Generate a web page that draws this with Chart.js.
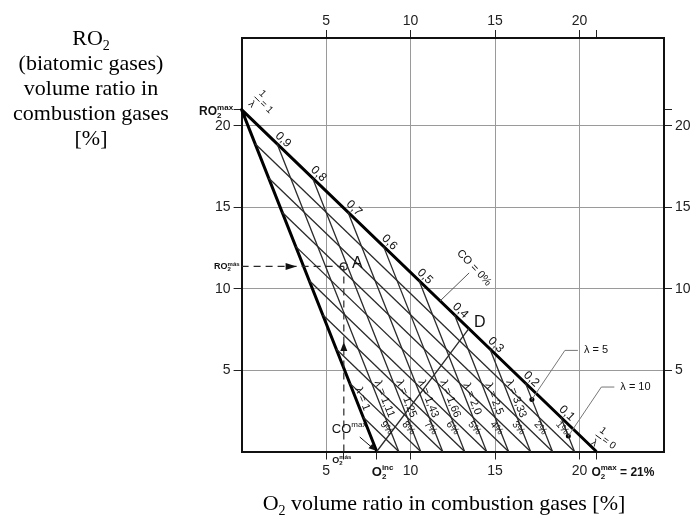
<!DOCTYPE html>
<html>
<head>
<meta charset="utf-8">
<title>Combustion triangle</title>
<script src="https://cdn.jsdelivr.net/npm/chart.js@4.4.1/dist/chart.umd.min.js"></script>
<style>
  html, body { margin: 0; padding: 0; background: #fff; }
  #chart { display: block; }
</style>
</head>
<body>
<canvas id="chart" width="690" height="516"></canvas>
<script>
// Combustion triangle: O2 (x) against RO2 (y), both in % by volume
const RO2_MAX = 21;
const O2_MAX = 21;
const O2_INC = 8;
const CO_MAX = 10;

// 1/lambda values marked along the CO = 0 % edge, and the lambda each one stands for
const invLambda = [0.9, 0.8, 0.7, 0.6, 0.5, 0.4, 0.3, 0.2, 0.1];
const lambdaText = ['1,11', '1,25', '1,43', '1,66', '2,0', '2,5', '3,33', '5', '10'];
// CO content of the lines running down from the lambda = 1 edge
const coLevels = [9, 8, 7, 6, 5, 4, 3, 2, 1];

const axisTicks = [5, 10, 15, 20];
const pointA = { x: 6.05, y: 11.37 };
const pointD = { x: 13.45, y: 7.55 };
// RO2 level where the lambda = 5 and lambda = 10 callouts touch their lines
const calloutY = [3.2, 0.95];

const SANS = '"Liberation Sans", Arial, sans-serif';
const SERIF = '"Liberation Serif", "Times New Roman", serif';
const sans = (size, weight) => (weight || 'normal') + ' ' + size + 'px ' + SANS;
const serif = size => size + 'px ' + SERIF;

function lambdaLine(k) {
  return [{ x: O2_MAX * (1 - k), y: RO2_MAX * k }, { x: O2_MAX - (O2_MAX - O2_INC) * k, y: 0 }];
}

function coLine(c) {
  const t = c / CO_MAX;
  return [{ x: O2_INC * t, y: RO2_MAX * (1 - t) }, { x: O2_MAX - (O2_MAX - O2_INC) * t, y: 0 }];
}

function xOnLambda(k, y) {
  const [s, e] = lambdaLine(k);
  return s.x + (e.x - s.x) * (s.y - y) / s.y;
}

const thin = (data, extra) => Object.assign({
  data: data, showLine: true, borderColor: '#2a2a2a', borderWidth: 1.3,
  pointRadius: 0, fill: false, clip: false
}, extra || {});

const datasets = [];
invLambda.forEach(k => datasets.push(thin(lambdaLine(k))));
coLevels.forEach(c => datasets.push(thin(coLine(c))));
datasets.push(thin([pointD, { x: O2_INC, y: 0 }]));
// reading lines through A
datasets.push(thin([{ x: 0, y: pointA.y }, pointA], { borderDash: [7, 5], borderWidth: 1.2 }));
datasets.push(thin([{ x: pointA.x, y: 0 }, pointA], { borderDash: [7, 5], borderWidth: 1.2 }));
// heavy edges: lambda = 1 and CO = 0 %
datasets.push(thin([{ x: O2_INC, y: 0 }, { x: 0, y: RO2_MAX }, { x: O2_MAX, y: 0 }],
  { borderColor: '#000', borderWidth: 3, borderJoinStyle: 'round' }));
datasets.push({
  data: calloutY.map((y, i) => ({ x: xOnLambda(invLambda[7 + i], y), y: y })),
  showLine: false, pointRadius: 2.5, pointBackgroundColor: '#000', pointBorderWidth: 0, clip: false
});
datasets.push({
  data: [pointA], showLine: false, pointRadius: 3.5, pointBackgroundColor: '#fff',
  pointBorderColor: '#222', pointBorderWidth: 1.2, clip: false
});

function rotText(ctx, text, x, y, angle, font) {
  ctx.save();
  ctx.translate(x, y);
  ctx.rotate(angle);
  ctx.font = font;
  ctx.textAlign = 'center';
  ctx.textBaseline = 'middle';
  ctx.fillText(text, 0, 0);
  ctx.restore();
}

// text runs with sub/superscripts; keep:true leaves the pen in place for a stacked script
function richWidth(ctx, segs) {
  let x = 0, held = 0;
  segs.forEach(s => {
    ctx.font = s.f;
    const w = ctx.measureText(s.t).width;
    if (s.keep) held = Math.max(held, w);
    else { x += Math.max(held, w); held = 0; }
  });
  return x + held;
}

function drawRich(ctx, x, y, segs, align) {
  const w = richWidth(ctx, segs);
  let cx = align === 'center' ? x - w / 2 : align === 'right' ? x - w : x;
  let held = 0;
  ctx.textAlign = 'left';
  ctx.textBaseline = 'alphabetic';
  segs.forEach(s => {
    ctx.font = s.f;
    ctx.fillText(s.t, cx, y + (s.dy || 0));
    const sw = ctx.measureText(s.t).width;
    if (s.keep) held = Math.max(held, sw);
    else { cx += Math.max(held, sw); held = 0; }
  });
}

function arrowHead(ctx, x, y, angle, len, half) {
  ctx.save();
  ctx.translate(x, y);
  ctx.rotate(angle);
  ctx.beginPath();
  ctx.moveTo(0, 0);
  ctx.lineTo(-len, -half);
  ctx.lineTo(-len, half);
  ctx.closePath();
  ctx.fill();
  ctx.restore();
}

function fracLabel(ctx, x, y, angle, rhs) {
  ctx.save();
  ctx.translate(x, y);
  ctx.rotate(angle);
  ctx.font = sans(10);
  ctx.textAlign = 'center';
  ctx.textBaseline = 'middle';
  ctx.fillText('1', 0, -7.5);
  ctx.fillText('λ', 0, 7.5);
  ctx.lineWidth = 0.9;
  ctx.beginPath();
  ctx.moveTo(-3.5, 0);
  ctx.lineTo(3.5, 0);
  ctx.stroke();
  ctx.textAlign = 'left';
  ctx.fillText('= ' + rhs, 5, -1);
  ctx.restore();
}

const annotations = {
  id: 'annotations',
  afterDraw(chart) {
    const ctx = chart.ctx;
    const X = v => chart.scales.x.getPixelForValue(v);
    const Y = v => chart.scales.y.getPixelForValue(v);
    ctx.save();
    ctx.fillStyle = '#111';
    ctx.strokeStyle = '#111';

    // 1/lambda along the CO = 0 % edge
    const hyp = Math.atan2(Y(0) - Y(RO2_MAX), X(O2_MAX) - X(0));
    const hu = [Math.cos(hyp), Math.sin(hyp)], hn = [Math.sin(hyp), -Math.cos(hyp)];
    invLambda.forEach(k => {
      const x = X(O2_MAX * (1 - k)) + 1.5 * hu[0] + 7 * hn[0];
      const y = Y(RO2_MAX * k) + 1.5 * hu[1] + 7 * hn[1];
      rotText(ctx, String(k).replace('.', ','), x, y, hyp, sans(12));
    });

    // lambda names along the steep lines
    const lam = Math.atan2(Y(0) - Y(RO2_MAX), X(O2_INC) - X(0));
    const ln = [Math.sin(lam), -Math.cos(lam)];
    const named = [[1, '1']].concat(invLambda.slice(0, 7).map((k, i) => [k, lambdaText[i]]));
    named.forEach(([k, t]) => {
      const yv = 3.1;
      rotText(ctx, 'λ = ' + t, X(xOnLambda(k, yv)) + 6 * ln[0], Y(yv) + 6 * ln[1], lam, sans(11));
    });

    // CO content near the foot of each line
    coLevels.forEach(c => {
      const end = coLine(c)[1];
      rotText(ctx, c + '%', X(end.x) - 12, Y(0) - 23.5, 0.85, sans(10));
    });

    // callouts for lambda = 5 and lambda = 10
    ctx.strokeStyle = '#777';
    ctx.lineWidth = 1;
    calloutY.forEach((yv, i) => {
      const k = invLambda[7 + i];
      const x0 = X(xOnLambda(k, yv)), y0 = Y(yv);
      ctx.beginPath();
      ctx.moveTo(x0, y0);
      ctx.lineTo(x0 + 33, y0 - 49);
      ctx.lineTo(x0 + 46, y0 - 49);
      ctx.stroke();
      ctx.font = sans(11);
      ctx.textAlign = 'left';
      ctx.textBaseline = 'middle';
      ctx.fillText('λ = ' + lambdaText[7 + i], x0 + 52, y0 - 49);
    });

    // CO = 0 % callout
    ctx.strokeStyle = '#555';
    const cx0 = X(11.75), cy0 = Y(O2_MAX - 11.75);
    ctx.beginPath();
    ctx.moveTo(cx0, cy0);
    ctx.lineTo(cx0 + 29, cy0 - 28);
    ctx.stroke();
    rotText(ctx, 'CO = 0%', cx0 + 29 + 5, cy0 - 28 - 5, 0.82, sans(11));

    // point names
    ctx.font = sans(16);
    ctx.textAlign = 'center';
    ctx.textBaseline = 'middle';
    ctx.fillText('A', X(pointA.x) + 13.5, Y(pointA.y) - 2.5);
    ctx.fillText('D', X(pointD.x) + 11, Y(pointD.y) - 6);

    // arrows on the reading lines and the CO max pointer
    arrowHead(ctx, X(0) + 55, Y(pointA.y), 0, 11, 3.5);
    arrowHead(ctx, X(pointA.x), Y(0) - 109.5, -Math.PI / 2, 9, 3.5);
    const bx = X(O2_INC), by = Y(0);
    ctx.strokeStyle = '#111';
    ctx.lineWidth = 1;
    ctx.beginPath();
    ctx.moveTo(bx - 17, by - 14.5);
    ctx.lineTo(bx - 3, by - 2.5);
    ctx.stroke();
    arrowHead(ctx, bx - 1, by - 1, Math.atan2(14.5, 17), 7, 3);
    drawRich(ctx, bx - 45, by - 18.5, [{ t: 'CO', f: sans(13) }, { t: 'max', f: sans(8), dy: -6 }]);

    // 1/lambda = 1 and 1/lambda = 0 at the ends of the CO = 0 % edge
    ctx.strokeStyle = '#111';
    fracLabel(ctx, X(0) + 15.4, Y(RO2_MAX) - 10.5, Math.PI / 4, '1');
    fracLabel(ctx, X(O2_MAX) + 2, Y(0) - 14.5, 0.62, '0');

    // special axis marks
    drawRich(ctx, X(0) - 8.5, Y(RO2_MAX) + 5, [
      { t: 'RO', f: sans(12, 'bold') }, { t: '2', f: sans(8, 'bold'), dy: 3, keep: true },
      { t: 'max', f: sans(8, 'bold'), dy: -5 }], 'right');
    drawRich(ctx, X(0) - 2, Y(pointA.y) + 3, [
      { t: 'RO', f: sans(9, 'bold') }, { t: '2', f: sans(6, 'bold'), dy: 2, keep: true },
      { t: 'más', f: sans(6, 'bold'), dy: -3.5 }], 'right');
    drawRich(ctx, X(pointA.x) - 11.5, Y(0) + 11, [
      { t: 'O', f: sans(9, 'bold') }, { t: '2', f: sans(6, 'bold'), dy: 2, keep: true },
      { t: 'más', f: sans(6, 'bold'), dy: -3.5 }]);
    drawRich(ctx, X(O2_INC) - 5, Y(0) + 24.5, [
      { t: 'O', f: sans(13, 'bold') }, { t: '2', f: sans(8, 'bold'), dy: 3, keep: true },
      { t: 'inc', f: sans(8, 'bold'), dy: -6 }]);
    drawRich(ctx, X(O2_MAX) - 5, Y(0) + 24.5, [
      { t: 'O', f: sans(12, 'bold') }, { t: '2', f: sans(8, 'bold'), dy: 3, keep: true },
      { t: 'max', f: sans(8, 'bold'), dy: -6 }, { t: ' = 21%', f: sans(12, 'bold') }]);

    // axis titles
    ctx.fillStyle = '#000';
    drawRich(ctx, 91, 45, [{ t: 'RO', f: serif(22) }, { t: '2', f: serif(14), dy: 5 }], 'center');
    ['(biatomic gases)', 'volume ratio in', 'combustion gases', '[%]'].forEach((t, i) => {
      drawRich(ctx, 91, 70 + 25 * i, [{ t: t, f: serif(22) }], 'center');
    });
    drawRich(ctx, 444, 510, [{ t: 'O', f: serif(22) }, { t: '2', f: serif(14), dy: 5 },
      { t: ' volume ratio in combustion gases [%]', f: serif(22) }], 'center');
    ctx.restore();
  }
};

function axis(position, ticks, labelled, size, drawGrid) {
  const horizontal = position === 'top' || position === 'bottom';
  return {
    type: 'linear',
    position: position,
    min: 0,
    max: horizontal ? 25 : 25.4,
    afterBuildTicks: s => { s.ticks = ticks.map(v => ({ value: v })); },
    afterFit: s => { if (horizontal) s.height = size; else s.width = size; },
    ticks: {
      autoSkip: false, maxRotation: 0, padding: position === 'top' ? 0 : 3, color: '#222',
      font: { family: SANS, size: 14 },
      callback: v => labelled.includes(v) ? String(v) : ''
    },
    grid: {
      drawOnChartArea: drawGrid,
      color: c => (c.tick && labelled.includes(c.tick.value)) ? '#9a9a9a' : 'rgba(0,0,0,0)',
      tickColor: '#222', tickLength: 8, lineWidth: 1, tickWidth: 1
    },
    border: { color: '#111', width: 2 }
  };
}

new Chart(document.getElementById('chart'), {
  type: 'scatter',
  data: { datasets: datasets },
  options: {
    responsive: false,
    animation: false,
    devicePixelRatio: 1,
    events: [],
    layout: { padding: 0 },
    plugins: { legend: { display: false }, tooltip: { enabled: false } },
    scales: {
      x: axis('bottom', [5, pointA.x, O2_INC, 10, 15, 20, O2_MAX], axisTicks, 64.5, true),
      x2: axis('top', axisTicks.concat([O2_MAX]), axisTicks, 38, false),
      y: axis('left', axisTicks.concat([RO2_MAX]), axisTicks, 241.6, true),
      y2: axis('right', axisTicks.concat([RO2_MAX]), axisTicks, 26, false)
    }
  },
  plugins: [annotations]
});
</script>
</body>
</html>
